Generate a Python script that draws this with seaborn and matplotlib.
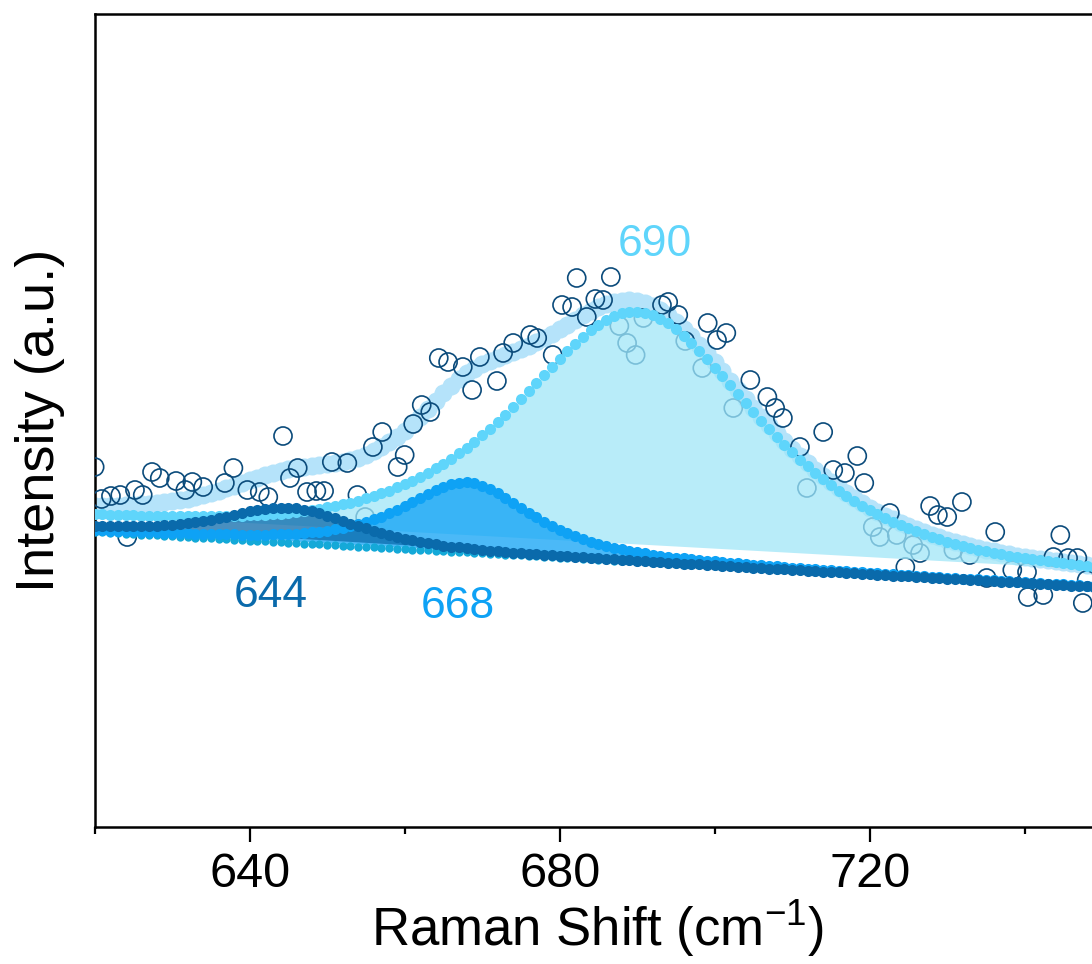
import numpy as np
import pandas as pd
import matplotlib
matplotlib.use("Agg")
import matplotlib.pyplot as plt
import seaborn as sns

# Raman shift grid of the fitted curves (cm-1)
wavenumber = np.arange(620, 761)

# linear background under the fit
baseline = [
    29.50, 29.46, 29.41, 29.37, 29.33, 29.29, 29.24, 29.20, 29.16, 29.12,
    29.07, 29.03, 28.99, 28.95, 28.90, 28.86, 28.82, 28.78, 28.73, 28.69,
    28.65, 28.61, 28.56, 28.52, 28.48, 28.44, 28.39, 28.35, 28.31, 28.26,
    28.22, 28.18, 28.14, 28.09, 28.05, 28.01, 27.97, 27.92, 27.88, 27.84,
    27.80, 27.75, 27.71, 27.67, 27.63, 27.58, 27.54, 27.50, 27.46, 27.41,
    27.37, 27.33, 27.28, 27.24, 27.20, 27.16, 27.11, 27.07, 27.03, 26.99,
    26.94, 26.90, 26.86, 26.82, 26.77, 26.73, 26.69, 26.65, 26.60, 26.56,
    26.52, 26.48, 26.43, 26.39, 26.35, 26.31, 26.26, 26.22, 26.18, 26.13,
    26.09, 26.05, 26.01, 25.96, 25.92, 25.88, 25.84, 25.79, 25.75, 25.71,
    25.67, 25.62, 25.58, 25.54, 25.50, 25.45, 25.41, 25.37, 25.33, 25.28,
    25.24, 25.20, 25.15, 25.11, 25.07, 25.03, 24.98, 24.94, 24.90, 24.86,
    24.81, 24.77, 24.73, 24.69, 24.64, 24.60, 24.56, 24.52, 24.47, 24.43,
    24.39, 24.35, 24.30, 24.26, 24.22, 24.17, 24.13, 24.09, 24.05, 24.00,
    23.96, 23.92, 23.88, 23.83, 23.79, 23.75, 23.71, 23.66, 23.62, 23.58,
    23.54,
]

# fitted components, height above the background
peak_644 = [
    0.60, 0.62, 0.65, 0.69, 0.73, 0.78, 0.84, 0.90, 0.97, 1.05,
    1.14, 1.24, 1.37, 1.52, 1.68, 1.87, 2.05, 2.26, 2.48, 2.70,
    2.91, 3.10, 3.26, 3.39, 3.47, 3.50,
    3.47, 3.39, 3.26, 3.10, 2.91, 2.70, 2.48, 2.26, 2.05, 1.85,
    1.66, 1.48, 1.31, 1.16, 1.03, 0.91, 0.81, 0.72, 0.64, 0.57,
    0.51, 0.46, 0.41, 0.37, 0.34, 0.31, 0.29, 0.27, 0.25, 0.23,
    0.22, 0.21, 0.20, 0.19, 0.18, 0.17, 0.16, 0.15, 0.15, 0.14,
    0.13, 0.13, 0.12, 0.12, 0.11, 0.11, 0.10, 0.10, 0.10, 0.09,
    0.09, 0.09, 0.08, 0.08, 0.08, 0.08, 0.07, 0.07, 0.07, 0.06,
    0.06, 0.06, 0.06, 0.06, 0.06, 0.05, 0.05, 0.05, 0.05, 0.05,
    0.05, 0.05, 0.05, 0.04, 0.04, 0.04, 0.04, 0.04, 0.04, 0.04,
    0.04, 0.04, 0.04, 0.04, 0.03, 0.03, 0.03, 0.03, 0.03, 0.03,
    0.03, 0.03, 0.03, 0.03, 0.03, 0.03, 0.03, 0.02, 0.02, 0.02,
    0.02, 0.02, 0.02, 0.02, 0.02, 0.02, 0.02, 0.02, 0.02, 0.02,
    0.02, 0.02, 0.02, 0.02, 0.02,
]

peak_668 = [
    0.22, 0.23, 0.24, 0.25, 0.26, 0.27, 0.28, 0.29,
    0.31, 0.32, 0.34, 0.36, 0.38, 0.40, 0.42, 0.44, 0.47, 0.50,
    0.53, 0.56, 0.60, 0.64, 0.69, 0.75, 0.81, 0.88, 0.96, 1.05,
    1.16, 1.28, 1.42, 1.59, 1.77, 1.98, 2.22, 2.49, 2.80, 3.13,
    3.50, 3.90, 4.32, 4.77, 5.22, 5.67, 6.09, 6.46, 6.75, 6.94,
    7.00,
    6.94, 6.75, 6.46, 6.09, 5.67, 5.22, 4.77, 4.32, 3.90, 3.50,
    3.13, 2.80, 2.49, 2.22, 1.98, 1.77, 1.59, 1.42, 1.28, 1.16,
    1.05, 0.96, 0.88, 0.81, 0.75, 0.69, 0.64, 0.60, 0.56, 0.53,
    0.50, 0.47, 0.44, 0.42, 0.40, 0.38, 0.36, 0.34, 0.32, 0.31,
    0.29, 0.28, 0.27, 0.26, 0.25, 0.24, 0.23, 0.22, 0.21, 0.20,
    0.20, 0.19, 0.18, 0.18, 0.17, 0.16, 0.16, 0.15, 0.15, 0.14,
    0.14, 0.13, 0.13, 0.12, 0.12, 0.12, 0.11, 0.11, 0.11, 0.10,
    0.10, 0.10, 0.10, 0.09, 0.09, 0.09, 0.09, 0.08, 0.08, 0.08,
    0.08, 0.08, 0.07, 0.07, 0.07, 0.07, 0.07, 0.07, 0.06, 0.06,
    0.06, 0.06,
]

peak_690 = [
    1.79, 1.80, 1.82, 1.84, 1.86, 1.88, 1.90, 1.93, 1.95, 1.98,
    2.02, 2.05, 2.09, 2.13, 2.17, 2.22, 2.27, 2.32, 2.38, 2.45,
    2.52, 2.59, 2.67, 2.76, 2.86, 2.96, 3.10, 3.24, 3.40, 3.56,
    3.74, 3.93, 4.14, 4.36, 4.60, 4.86, 5.14, 5.44, 5.76, 6.11,
    6.48, 6.87, 7.30, 7.75, 8.23, 8.75, 9.29, 9.87, 10.48, 11.12,
    11.79, 12.50, 13.24, 14.00, 14.79, 15.61, 16.44, 17.29, 18.14, 19.00,
    19.84, 20.66, 21.45, 22.20, 22.88, 23.49, 24.02, 24.44, 24.75, 24.94,
    25.00,
    24.94, 24.75, 24.44, 24.02, 23.49, 22.88, 22.20, 21.45, 20.66, 19.84,
    19.00, 18.14, 17.29, 16.44, 15.61, 14.79, 14.00, 13.24, 12.50, 11.79,
    11.12, 10.48, 9.87, 9.29, 8.75, 8.23, 7.75, 7.30, 6.87, 6.48,
    6.11, 5.76, 5.44, 5.14, 4.86, 4.60, 4.36, 4.14, 3.93, 3.74,
    3.56, 3.40, 3.24, 3.10, 2.96, 2.86, 2.76, 2.67, 2.59, 2.52,
    2.45, 2.38, 2.32, 2.27, 2.22, 2.17, 2.13, 2.09, 2.05, 2.02,
    1.98, 1.95, 1.93, 1.90, 1.88, 1.86, 1.84, 1.82, 1.80, 1.79,
]

# measured spectrum
raw_shift = [
    620.0, 620.9, 622.1, 623.3, 624.2, 625.2, 626.2, 627.4, 628.4, 630.5,
    631.7, 632.6, 634.0, 636.8, 637.9, 639.7, 641.3, 642.4, 644.3, 645.2,
    646.2, 647.4, 648.6, 649.6, 650.6, 652.6, 653.9, 654.9, 655.9, 657.1,
    659.1, 660.0, 661.1, 662.2, 663.3, 664.4, 665.6, 667.5, 668.7, 669.7,
    671.9, 672.7, 674.0, 676.2, 677.1, 679.1, 680.3, 681.6, 682.2, 683.5,
    684.6, 685.6, 686.6, 687.7, 688.7, 689.8, 690.8, 693.2, 694.0, 695.3,
    696.2, 698.4, 699.1, 700.3, 701.5, 702.4, 704.6, 706.8, 707.8, 708.8,
    711.0, 711.9, 714.0, 715.3, 716.8, 718.4, 719.3, 720.4, 721.3, 722.6,
    723.5, 724.6, 725.6, 726.5, 727.8, 728.8, 730.0, 730.8, 731.9, 732.9,
    735.1, 736.2, 738.4, 740.3, 740.4, 742.4, 743.7, 744.6, 745.6, 746.8,
    747.5, 748.0,
]
raw_intensity = [
    36.0, 32.8, 33.1, 33.2, 29.0, 33.7, 33.2, 35.5, 34.9, 34.6,
    33.7, 34.5, 34.0, 34.4, 35.9, 33.7, 33.5, 33.0, 39.1, 34.9,
    35.9, 33.5, 33.6, 33.6, 36.5, 36.4, 33.2, 31.0, 38.0, 39.5,
    36.0, 37.2, 40.3, 42.2, 41.5, 46.9, 46.5, 46.0, 43.7, 47.0,
    44.6, 47.4, 48.4, 49.2, 48.9, 47.2, 52.2, 52.0, 54.9, 51.0,
    52.8, 52.7, 55.0, 50.1, 48.4, 47.2, 50.9, 52.2, 52.5, 51.2,
    48.6, 45.9, 50.4, 48.7, 49.4, 41.9, 44.7, 43.0, 41.9, 40.9,
    38.0, 33.9, 39.5, 35.7, 35.4, 37.1, 34.4, 30.0, 29.0, 31.4,
    29.2, 26.0, 28.2, 27.4, 32.1, 31.2, 31.0, 27.7, 32.5, 27.2,
    24.9, 29.5, 25.7, 25.5, 23.0, 23.2, 27.0, 29.2, 26.9, 26.9,
    22.4, 24.7,
]


def main():
    sns.set_theme(style="ticks", rc={
        "axes.edgecolor": "black",
        "xtick.color": "black",
        "text.color": "black",
        "axes.labelcolor": "black",
    })
    plt.rcParams["font.family"] = ["Liberation Sans", "DejaVu Sans"]
    plt.rcParams["mathtext.fontset"] = "custom"
    plt.rcParams["mathtext.rm"] = "Liberation Sans"

    c644 = "#0a6aab"
    c668 = "#0ea2f5"
    c690 = "#5fd5fb"

    df = pd.DataFrame({
        "shift": wavenumber,
        "base": baseline,
        "c644": np.array(baseline) + np.array(peak_644),
        "c668": np.array(baseline) + np.array(peak_668),
        "c690": np.array(baseline) + np.array(peak_690),
    })
    df["total"] = df["base"] + np.array(peak_644) + np.array(peak_668) + np.array(peak_690)

    fig = plt.figure(figsize=(10.92, 9.64), dpi=100)
    ax = fig.add_axes([0.0867, 0.1421, 0.9936, 0.8434])

    # cumulative fit
    sns.scatterplot(data=df, x="shift", y="total", s=13 ** 2, color="#b5e3fa",
                    linewidth=0, ax=ax, zorder=2)
    # raw data
    sns.scatterplot(x=raw_shift, y=raw_intensity, s=13 ** 2, marker="o",
                    facecolor="none", edgecolor="#0b4b7b", linewidth=1.2,
                    ax=ax, zorder=3)

    # filled peaks (down to the line between the curve ends)
    for col, fc, a, z in [("c690", "#a0e6f8", 0.75, 4),
                          ("c668", c668, 0.75, 5),
                          ("c644", c644, 0.75, 6)]:
        y = df[col].values
        floor = np.linspace(y[0], y[-1], len(y))
        ax.fill_between(df["shift"], floor, y, color=fc, alpha=a, linewidth=0, zorder=z)

    sns.scatterplot(data=df, x="shift", y="base", s=6 ** 2, color="#14a9d8",
                    linewidth=0, ax=ax, zorder=7)
    sns.scatterplot(data=df, x="shift", y="c690", s=8 ** 2, color=c690,
                    linewidth=0, ax=ax, zorder=8)
    sns.scatterplot(data=df, x="shift", y="c668", s=8 ** 2, color=c668,
                    linewidth=0, ax=ax, zorder=9)
    sns.scatterplot(data=df, x="shift", y="c644", s=8 ** 2, color=c644,
                    linewidth=0, ax=ax, zorder=10)

    ax.text(642.7, 23.2, "644", color=c644, fontsize=32, ha="center", va="center")
    ax.text(666.9, 22.1, "668", color=c668, fontsize=32, ha="center", va="center")
    ax.text(692.3, 58.2, "690", color=c690, fontsize=32, ha="center", va="center")

    ax.set_xlim(620, 760)
    ax.set_ylim(0, 81.3)
    ax.set_xticks([640, 680, 720])
    ax.set_xticks([620, 660, 700, 740], minor=True)
    ax.set_yticks([])
    ax.set_xlabel("")
    ax.set_ylabel("")
    ax.tick_params(axis="x", which="major", direction="out", length=10.8,
                   width=1.6, labelsize=35, pad=7)
    ax.tick_params(axis="x", which="minor", direction="out", length=5, width=1.6)
    for sp in ax.spines.values():
        sp.set_linewidth(1.8)

    fig.text(598 / 1092, 1 - 928 / 964, "Raman Shift (cm$^{-1}$)", fontsize=38,
             ha="center", va="center")
    fig.text(40 / 1092, 1 - 420 / 964, "Intensity (a.u.)", fontsize=39,
             rotation=90, ha="center", va="center")

    fig.savefig("out.png", dpi=100)


if __name__ == "__main__":
    main()
